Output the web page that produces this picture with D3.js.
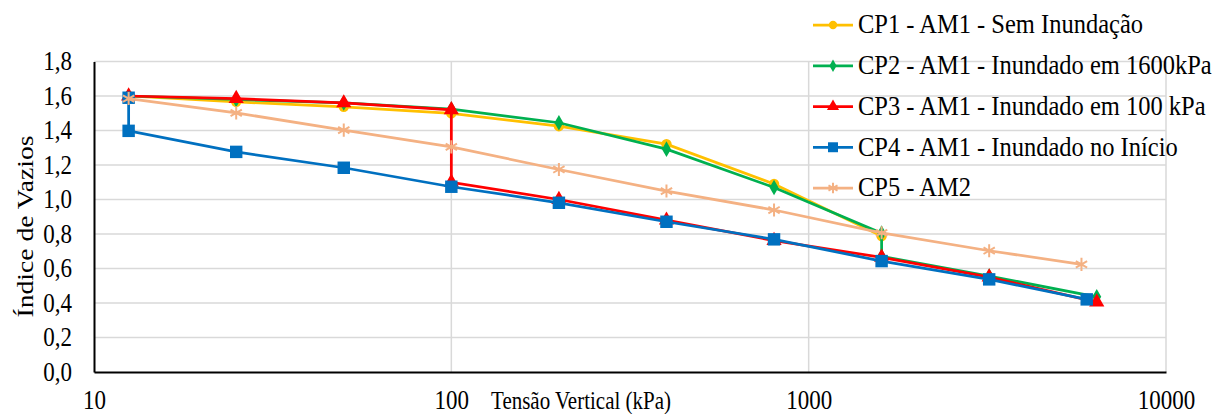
<!DOCTYPE html>
<html>
<head>
<meta charset="utf-8">
<script src="https://cdn.jsdelivr.net/npm/d3@7"></script>
<style>
  body { margin: 0; background: #fff; }
  svg, svg text { font-family: "Liberation Serif", "DejaVu Serif", serif !important; fill: #000; }
</style>
</head>
<body>
<div id="graph"></div>
<script>
// pressure steps (kPa) and void ratios
const cp1X = [12.5, 25, 50, 100, 200, 400, 800, 1600];
const cp1Y = [1.60, 1.566, 1.537, 1.499, 1.425, 1.321, 1.090, 0.788];

const cp2X = [12.5, 25, 50, 100, 200, 400, 800, 1600, 1600, 3200, 6400];
const cp2Y = [1.60, 1.58, 1.56, 1.524, 1.445, 1.292, 1.070, 0.805, 0.670, 0.556, 0.436];

const cp3X = [12.5, 25, 50, 100, 100, 200, 400, 800, 1600, 3200, 6400];
const cp3Y = [1.60, 1.585, 1.56, 1.52, 1.10, 1.00, 0.88, 0.762, 0.665, 0.55, 0.405];

const cp4X = [12.5, 12.5, 25, 50, 100, 200, 400, 800, 1600, 3200, 6000];
const cp4Y = [1.59, 1.398, 1.276, 1.184, 1.074, 0.981, 0.871, 0.769, 0.643, 0.537, 0.421];

const cp5X = [12.5, 25, 50, 100, 200, 400, 800, 1600, 3200, 5800];
const cp5Y = [1.585, 1.502, 1.402, 1.305, 1.174, 1.049, 0.939, 0.807, 0.703, 0.624];

const seriesNames = [
  'CP1 - AM1 - Sem Inundação',
  'CP2 - AM1 - Inundado em 1600kPa',
  'CP3 - AM1 - Inundado em 100 kPa',
  'CP4 - AM1 - Inundado no Início',
  'CP5 - AM2'
];
const xTicks = [10, 100, 1000, 10000];
const yTicks = [0, 0.2, 0.4, 0.6, 0.8, 1.0, 1.2, 1.4, 1.6, 1.8];

const series = [
  { name: seriesNames[0], xs: cp1X, ys: cp1Y, color: '#FFC000', marker: 'circle' },
  { name: seriesNames[1], xs: cp2X, ys: cp2Y, color: '#00B050', marker: 'diamond' },
  { name: seriesNames[2], xs: cp3X, ys: cp3Y, color: '#FF0000', marker: 'triangle' },
  { name: seriesNames[3], xs: cp4X, ys: cp4Y, color: '#0070C0', marker: 'square' },
  { name: seriesNames[4], xs: cp5X, ys: cp5Y, color: '#F4B183', marker: 'star' }
];

const width = 1218, height = 414;
const plotLeft = 94, plotRight = 1166, plotTop = 61.5, plotBottom = 372;
const stretch = 1.15; // the original text looks a bit taller than wide

const svg = d3.select('#graph').append('svg')
  .attr('width', width)
  .attr('height', height);

const x = d3.scaleLog().domain([10, 10000]).range([plotLeft, plotRight]);
const y = d3.scaleLinear().domain([0, 1.8]).range([plotBottom, plotTop]);

// gridlines
svg.append('g')
  .selectAll('line')
  .data(yTicks.slice(1))
  .enter().append('line')
  .attr('x1', plotLeft).attr('x2', plotRight)
  .attr('y1', d => y(d)).attr('y2', d => y(d))
  .attr('stroke', '#d9d9d9').attr('stroke-width', 1.5);

svg.append('g')
  .selectAll('line')
  .data(xTicks.slice(1))
  .enter().append('line')
  .attr('x1', d => x(d)).attr('x2', d => x(d))
  .attr('y1', plotTop).attr('y2', plotBottom)
  .attr('stroke', '#d9d9d9').attr('stroke-width', 1.5);

// axes
const fmt = d3.format('.1f');
const yAxis = svg.append('g')
  .attr('transform', `translate(${plotLeft},0)`)
  .call(d3.axisLeft(y).tickValues(yTicks).tickSize(0).tickPadding(22)
    .tickFormat(d => fmt(d).replace('.', ',')));
yAxis.attr('font-family', null);
yAxis.select('.domain').attr('stroke', '#000').attr('stroke-width', 2);
yAxis.selectAll('text')
  .style('font-size', '23px')
  .attr('transform', `scale(1,${stretch})`);

const xAxis = svg.append('g')
  .attr('transform', `translate(0,${plotBottom})`)
  .call(d3.axisBottom(x).tickValues(xTicks).tickSize(0)
    .tickFormat(d3.format('d')));
xAxis.attr('font-family', null);
xAxis.select('.domain').attr('stroke', '#000').attr('stroke-width', 2);
xAxis.selectAll('text')
  .style('font-size', '23px')
  .attr('y', 37 / stretch)
  .attr('dy', 0)
  .attr('transform', `scale(1,${stretch})`);

// axis titles
svg.append('text')
  .attr('transform', `translate(33,226.5) rotate(-90) scale(${stretch},1)`)
  .attr('text-anchor', 'middle')
  .style('font-size', '24px')
  .text('Índice de Vazios');

svg.append('text')
  .attr('transform', `translate(581,409) scale(1,${stretch})`)
  .attr('text-anchor', 'middle')
  .style('font-size', '21px')
  .text('Tensão Vertical (kPa)');

// marker shapes
const symbols = {
  circle: d3.symbol().type(d3.symbolCircle).size(85),
  diamond: d3.symbol().type(d3.symbolDiamond).size(70),
  triangle: d3.symbol().type(d3.symbolTriangle).size(100),
  square: d3.symbol().type(d3.symbolSquare).size(155),
  star: d3.symbol().type(d3.symbolAsterisk).size(120)
};

function drawMarker(g, s, k) {
  const p = g.append('path')
    .attr('d', symbols[s.marker]())
    .attr('transform', `scale(${k})`);
  if (s.marker === 'star') {
    p.attr('fill', 'none').attr('stroke', s.color).attr('stroke-width', 2 / k);
  } else {
    p.attr('fill', s.color);
  }
}

const line = d3.line().x(d => x(d[0])).y(d => y(d[1]));

series.forEach(s => {
  const pts = s.xs.map((v, i) => [v, s.ys[i]]);
  const g = svg.append('g');
  g.append('path')
    .datum(pts)
    .attr('d', line)
    .attr('fill', 'none')
    .attr('stroke', s.color)
    .attr('stroke-width', 2.75);
  g.selectAll('.pt')
    .data(pts)
    .enter().append('g')
    .attr('transform', d => `translate(${x(d[0])},${y(d[1])})`)
    .each(function() { drawMarker(d3.select(this), s, 1); });
});

// legend
const legend = svg.append('g');
series.forEach((s, i) => {
  const ly = 25 + i * 40.75;
  legend.append('line')
    .attr('x1', 813).attr('x2', 853)
    .attr('y1', ly).attr('y2', ly)
    .attr('stroke', s.color).attr('stroke-width', 2.75);
  const mg = legend.append('g').attr('transform', `translate(833,${ly})`);
  drawMarker(mg, s, 0.8);
  legend.append('text')
    .attr('transform', `translate(858,${ly + 8.3}) scale(1,${stretch})`)
    .style('font-size', '24.5px')
    .text(s.name);
});
</script>
</body>
</html>
